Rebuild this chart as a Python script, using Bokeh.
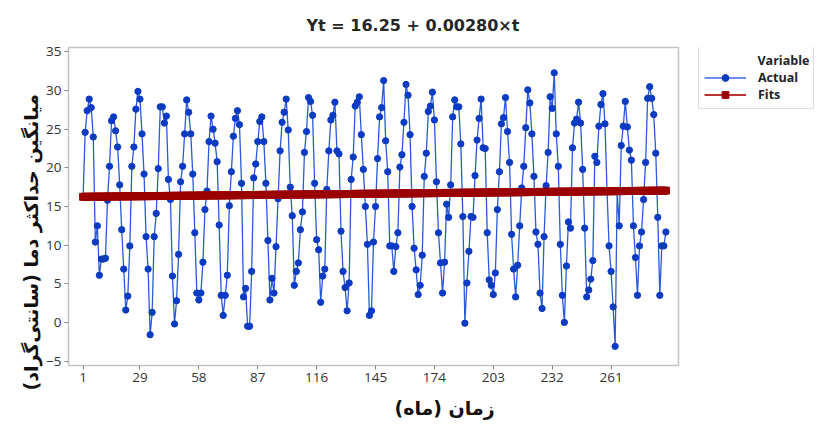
from bokeh.plotting import figure
from bokeh.models import Range1d, FixedTicker, Legend, LegendItem, Label, Title
from bokeh.layouts import row
from bokeh.embed import file_html
from bokeh.resources import INLINE

# ---- data ----
actual = [
    16.3, 24.6, 27.4, 28.9, 27.8, 24.0, 10.4, 12.5, 6.1, 8.2, 8.2, 8.3,
    15.8, 20.2, 26.1, 26.6, 24.8, 22.7, 17.8, 12.0, 6.9, 1.6, 3.4, 9.9,
    20.2, 22.7, 27.6, 29.9, 28.9, 24.4, 19.2, 11.1, 6.9, -1.6, 1.3, 11.1,
    14.1, 19.9, 27.9, 27.9, 25.8, 26.7, 18.5, 15.9, 6.0, -0.2, 2.8, 8.8,
    18.2, 20.2, 24.4, 28.8, 27.2, 24.4, 19.2, 11.6, 3.8, 2.9, 3.8, 7.8,
    14.6, 17.0, 23.4, 26.7, 25.0, 23.2, 20.8, 12.6, 3.5, 0.9, 3.5, 6.1,
    15.1, 19.5, 24.1, 26.4, 27.4, 25.6, 18.0, 3.3, 4.4, -0.5, -0.5, 6.6,
    18.7, 20.5, 23.4, 26.0, 26.6, 23.4, 18.0, 10.6, 2.9, 5.7, 3.8, 9.8,
    16.0, 22.2, 25.9, 27.2, 28.9, 24.9, 17.5, 13.8, 4.8, 6.6, 7.7, 12.0,
    14.3, 22.0, 24.7, 29.1, 28.6, 26.8, 18.0, 10.7, 9.4, 2.6, 6.0, 6.9,
    17.2, 22.2, 26.2, 26.8, 28.5, 22.2, 21.8, 11.8, 6.6, 4.5, 1.5, 5.1,
    18.5, 21.4, 28.0, 28.5, 29.2, 24.3, 19.8, 15.0, 10.1, 0.9, 1.5, 10.4,
    15.0, 21.2, 26.6, 27.8, 31.3, 23.5, 19.5, 9.9, 9.9, 6.6, 9.8, 11.6,
    20.1, 21.7, 25.9, 30.8, 29.4, 24.3, 15.0, 9.6, 6.8, 3.6, 4.8, 8.7,
    18.9, 21.9, 27.3, 28.0, 29.8, 26.2, 18.2, 11.6, 7.7, 3.8, 7.8, 15.3,
    13.6, 17.8, 26.6, 28.8, 27.9, 27.9, 23.1, 13.7, -0.1, 5.1, 9.2, 13.7,
    13.6, 19.0, 23.6, 26.4, 28.9, 22.6, 22.5, 11.6, 5.5, 4.8, 3.6, 6.4,
    14.6, 19.5, 25.7, 26.5, 29.1, 24.7, 20.7, 11.4, 6.9, 3.3, 7.4, 12.5,
    17.4, 20.2, 25.2, 30.1, 28.4, 24.4, 18.9, 11.7, 10.1, 3.8, 1.8, 11.1,
    17.7, 22.0, 29.2, 27.7, 32.3, 24.4, 20.2, 10.1, 3.5, 0.0, 7.3, 13.0,
    12.2, 22.6, 25.8, 26.3, 28.5, 25.8, 19.8, 12.2, 3.3, 4.2, 5.6, 8.0,
    21.5, 20.7, 25.4, 28.2, 29.6, 25.7, 17.0, 9.9, 6.6, 2.0, -3.1, 16.9,
    12.5, 22.9, 25.4, 28.6, 25.3, 22.3, 21.0, 12.5, 8.4, 3.5, 9.9, 11.7,
    15.9, 20.7, 29.0, 30.5, 29.0, 26.9, 21.9, 13.6, 3.5, 9.9, 9.9, 11.7,
]
months = list(range(1, len(actual) + 1))

# trend model shown in the title
intercept = 16.25
slope = 0.00280
fits = [intercept + slope * t for t in months]

x_ticks = [1, 29, 58, 87, 116, 145, 174, 203, 232, 261]
y_ticks = [-5, 0, 5, 10, 15, 20, 25, 30, 35]

title_text = "Yt = 16.25 + 0.00280\u00d7t"
x_label = "\u200fزمان (ماه)\u200f"
y_label = "\u200fمیانگین حداکثر دما (سانتی\u200cگراد)\u200f"
legend_title = "Variable"
series_names = ["Actual", "Fits"]

# styles
ACT_LINE = "#2a5ad8"
ACT_LEG_LINE = "#3a6ae6"
ACT_PT = "#0a3bc2"
FIT_COL = "#9b0000"
FIT_LEG_LINE = "#bb3333"

# ---- main figure ----
PW, H = 680, 430
FL, FR, FT, FB = 68, 678, 47, 365

p = figure(width=PW, height=H, output_backend="svg", toolbar_location=None,
           x_range=Range1d(-6.2, 294.2), y_range=Range1d(-5.58, 35.58),
           min_border_left=FL, min_border_right=PW - FR,
           min_border_top=FT, min_border_bottom=H - FB)
p.background_fill_color = "white"
p.border_fill_color = "white"
p.outline_line_color = "#c4c4c4"
p.outline_line_width = 1.5
p.xgrid.visible = False
p.ygrid.visible = False

for ax in (p.xaxis[0], p.yaxis[0]):
    ax.axis_line_color = None
    ax.major_tick_line_color = "#8a8a8a"
    ax.major_tick_in = 0
    ax.major_tick_out = 4
    ax.minor_tick_line_color = None
    ax.major_label_text_color = "#333333"
    ax.major_label_text_font = "Open Sans"
    ax.major_label_text_font_size = "13.5px"
    ax.major_label_standoff = 3

p.xaxis.ticker = FixedTicker(ticks=x_ticks)
p.yaxis.ticker = FixedTicker(ticks=y_ticks)

p.line(months, actual, line_color=ACT_LINE, line_width=1.3)
p.scatter(months, actual, marker="circle", size=6.3,
          fill_color=ACT_PT, line_color=ACT_PT)
p.line(months, fits, line_color=FIT_COL, line_width=2)
p.scatter(months, fits, marker="square", size=7,
          fill_color=FIT_COL, line_color=FIT_COL)

p.add_layout(Title(text=title_text, align="left", offset=306 - FL,
                   text_font="DejaVu Sans", text_font_style="bold",
                   text_font_size="16px", text_color="#262626", standoff=26), "above")
p.add_layout(Title(text=x_label, align="left", offset=394 - FL,
                   text_font="DejaVu Sans", text_font_style="bold",
                   text_font_size="19px", text_color="#111111", standoff=20), "below")
p.add_layout(Title(text=y_label, align="left", offset=FB - 390,
                   text_font="DejaVu Sans", text_font_style="bold",
                   text_font_size="19px", text_color="#111111", standoff=3), "left")

# ---- legend panel (its sample renderers hold no visible points) ----
QW = 818 - PW
q = figure(width=QW, height=H, output_backend="svg", toolbar_location=None,
           x_range=Range1d(0, QW), y_range=Range1d(0, H),
           x_axis_location=None, y_axis_location=None,
           min_border_left=0, min_border_right=0,
           min_border_top=FT, min_border_bottom=H - FB)
q.xgrid.visible = False
q.ygrid.visible = False
q.outline_line_color = None
q.background_fill_color = "white"
q.border_fill_color = "white"

nan = float("nan")
la = q.line([nan], [nan], line_color=ACT_LEG_LINE, line_width=1.5)
pa = q.scatter([nan], [nan], marker="circle", size=8, fill_color=ACT_PT, line_color=ACT_PT)
lf = q.line([nan], [nan], line_color=FIT_LEG_LINE, line_width=2)
pf = q.scatter([nan], [nan], marker="square", size=8, fill_color=FIT_COL, line_color=FIT_COL)

legend = Legend(items=[LegendItem(label=series_names[0], renderers=[la, pa]),
                       LegendItem(label=series_names[1], renderers=[lf, pf])],
                location=(698 - PW, FB - 109))
legend.title = "\u00a0"
legend.title_text_font_size = "13px"
legend.title_standoff = 2
legend.padding = 5
legend.spacing = 0
legend.margin = 0
legend.glyph_width = 42
legend.glyph_height = 17
legend.label_height = 17
legend.label_standoff = 12
legend.label_width = 50
legend.label_text_font = "Open Sans"
legend.label_text_font_style = "bold"
legend.label_text_font_size = "12.5px"
legend.label_text_color = "#222222"
legend.border_line_color = "#bdbdbd"
legend.border_line_width = 1
legend.background_fill_alpha = 0
q.add_layout(legend)

q.add_layout(Label(x=757 - PW, y=FB - 60, x_units="screen", y_units="screen",
                   text=legend_title, text_font="Open Sans", text_font_style="bold",
                   text_font_size="12.5px", text_color="#222222", level="overlay",
                   text_baseline="middle", text_align="left"))

layout = row(p, q, spacing=0)
open("out.html", "w").write(file_html(layout, INLINE))
